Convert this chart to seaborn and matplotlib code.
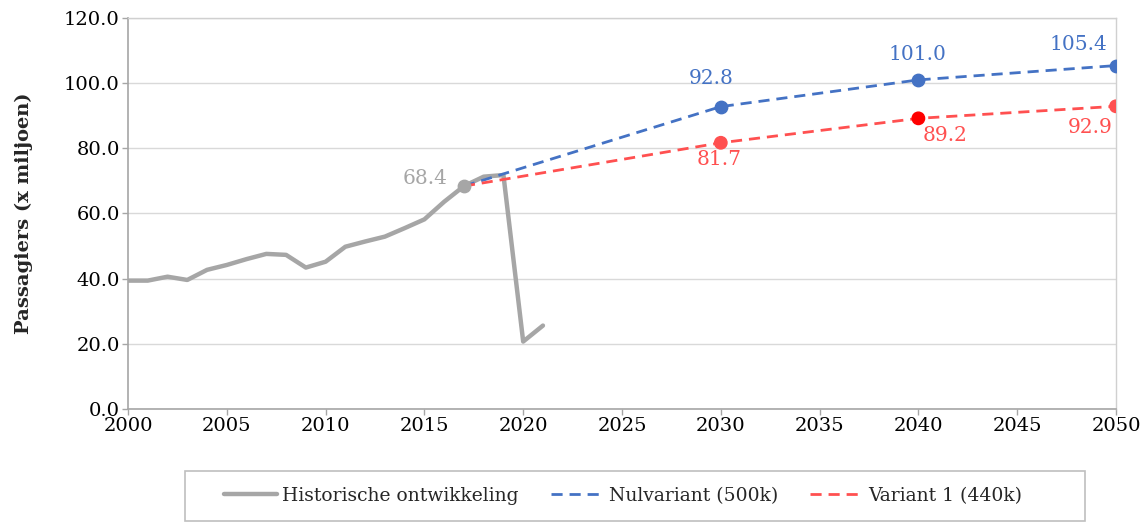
import matplotlib
matplotlib.use("Agg")
import matplotlib.pyplot as plt
from matplotlib.patches import Rectangle
import seaborn as sns
import pandas as pd

# Data
hist_years = [2000, 2001, 2002, 2003, 2004, 2005, 2006, 2007, 2008, 2009, 2010,
              2011, 2012, 2013, 2014, 2015, 2016, 2017, 2018, 2019, 2020, 2021]
hist_values = [39.4, 39.4, 40.6, 39.6, 42.7, 44.2, 46.0, 47.6, 47.3, 43.4, 45.2,
               49.8, 51.4, 52.9, 55.5, 58.2, 63.6, 68.4, 71.3, 71.8, 20.7, 25.6]

fc_years = [2017, 2030, 2040, 2050]
nul_values = [68.4, 92.8, 101.0, 105.4]
var1_values = [68.4, 81.7, 89.2, 92.9]

labels = ["Historische ontwikkeling", "Nulvariant (500k)", "Variant 1 (440k)"]

GRAY = "#A6A6A6"
BLUE = "#4472C4"
RED = "#FF5050"

sns.set_theme(style="white")
plt.rcParams["font.family"] = ["DejaVu Serif"]

fig = plt.figure(figsize=(11.46, 5.23), dpi=100)
ax = fig.add_axes([0.1117, 0.218, 0.8621, 0.7476])

hist = pd.DataFrame({"year": hist_years, "value": hist_values})
nul = pd.DataFrame({"year": fc_years, "value": nul_values})
var1 = pd.DataFrame({"year": fc_years, "value": var1_values})

sns.lineplot(data=hist, x="year", y="value", ax=ax, color=GRAY, linewidth=3.2,
             label=labels[0], zorder=3)
sns.lineplot(data=nul, x="year", y="value", ax=ax, color=BLUE, linewidth=2,
             label=labels[1], zorder=4)
sns.lineplot(data=var1, x="year", y="value", ax=ax, color=RED, linewidth=2,
             label=labels[2], zorder=4)
for ln in ax.lines[1:]:
    ln.set_dashes([4, 2.5])

# markers
ax.scatter([hist_years[17]], [hist_values[17]], s=80, color=GRAY, zorder=5)
ax.scatter(fc_years[1:], nul_values[1:], s=80, color=BLUE, zorder=5)
ax.scatter(fc_years[1:], var1_values[1:], s=80, color=[RED, "#FF0000", RED], zorder=5)

# value labels
fs = 14.5
ax.annotate(f"{hist_values[17]:.1f}", (hist_years[17], hist_values[17]), xytext=(-16, 8),
            textcoords="offset pixels", ha="right", va="center", color=GRAY, fontsize=fs)
offs_nul = [(-10, 28), (-1, 25), (-38, 21)]
for x, y, o in zip(fc_years[1:], nul_values[1:], offs_nul):
    ax.annotate(f"{y:.1f}", (x, y), xytext=o, textcoords="offset pixels",
                ha="center", va="center", color=BLUE, fontsize=fs)
offs_var = [(-2, -17), (27, -17), (-26, -21)]
for x, y, o in zip(fc_years[1:], var1_values[1:], offs_var):
    ax.annotate(f"{y:.1f}", (x, y), xytext=o, textcoords="offset pixels",
                ha="center", va="center", color=RED, fontsize=fs)

# axes styling
ax.set_xlim(2000, 2050)
ax.set_ylim(0, 120)
ax.set_xticks(range(2000, 2051, 5))
ax.set_yticks(range(0, 121, 20))
ax.set_yticklabels([f"{v:.1f}" for v in range(0, 121, 20)])
ax.yaxis.grid(True, color="#D9D9D9", linewidth=1)
ax.set_axisbelow(True)
ax.set_xlabel("")
ax.set_ylabel("Passagiers (x miljoen)", fontsize=14, fontweight="bold", labelpad=22)
ax.tick_params(axis="both", labelsize=14, colors="black", length=4, width=1,
               direction="out", bottom=True, left=True, pad=2)
ax.tick_params(axis="both", color="#A6A6A6")
for side in ["left", "bottom"]:
    ax.spines[side].set_color("#A6A6A6")
    ax.spines[side].set_linewidth(1.2)
for side in ["top", "right"]:
    ax.spines[side].set_color("#D0D0D0")
    ax.spines[side].set_linewidth(1)

# legend below the plot, with its own box
ax.get_legend().remove()
handles = ax.lines[:3]
leg = fig.legend(handles, labels, loc="center", bbox_to_anchor=(0.5437, 0.0516),
                 ncol=3, frameon=False, fontsize=13.5,
                 handlelength=2.8, handletextpad=0.3, columnspacing=1.7)
fig.patches.append(Rectangle((185 / 1146, 2 / 523), 900 / 1146, 50 / 523,
                             transform=fig.transFigure, fill=False,
                             edgecolor="#BFBFBF", linewidth=1.2))

fig.savefig("out.png", dpi=100)
plt.close(fig)
